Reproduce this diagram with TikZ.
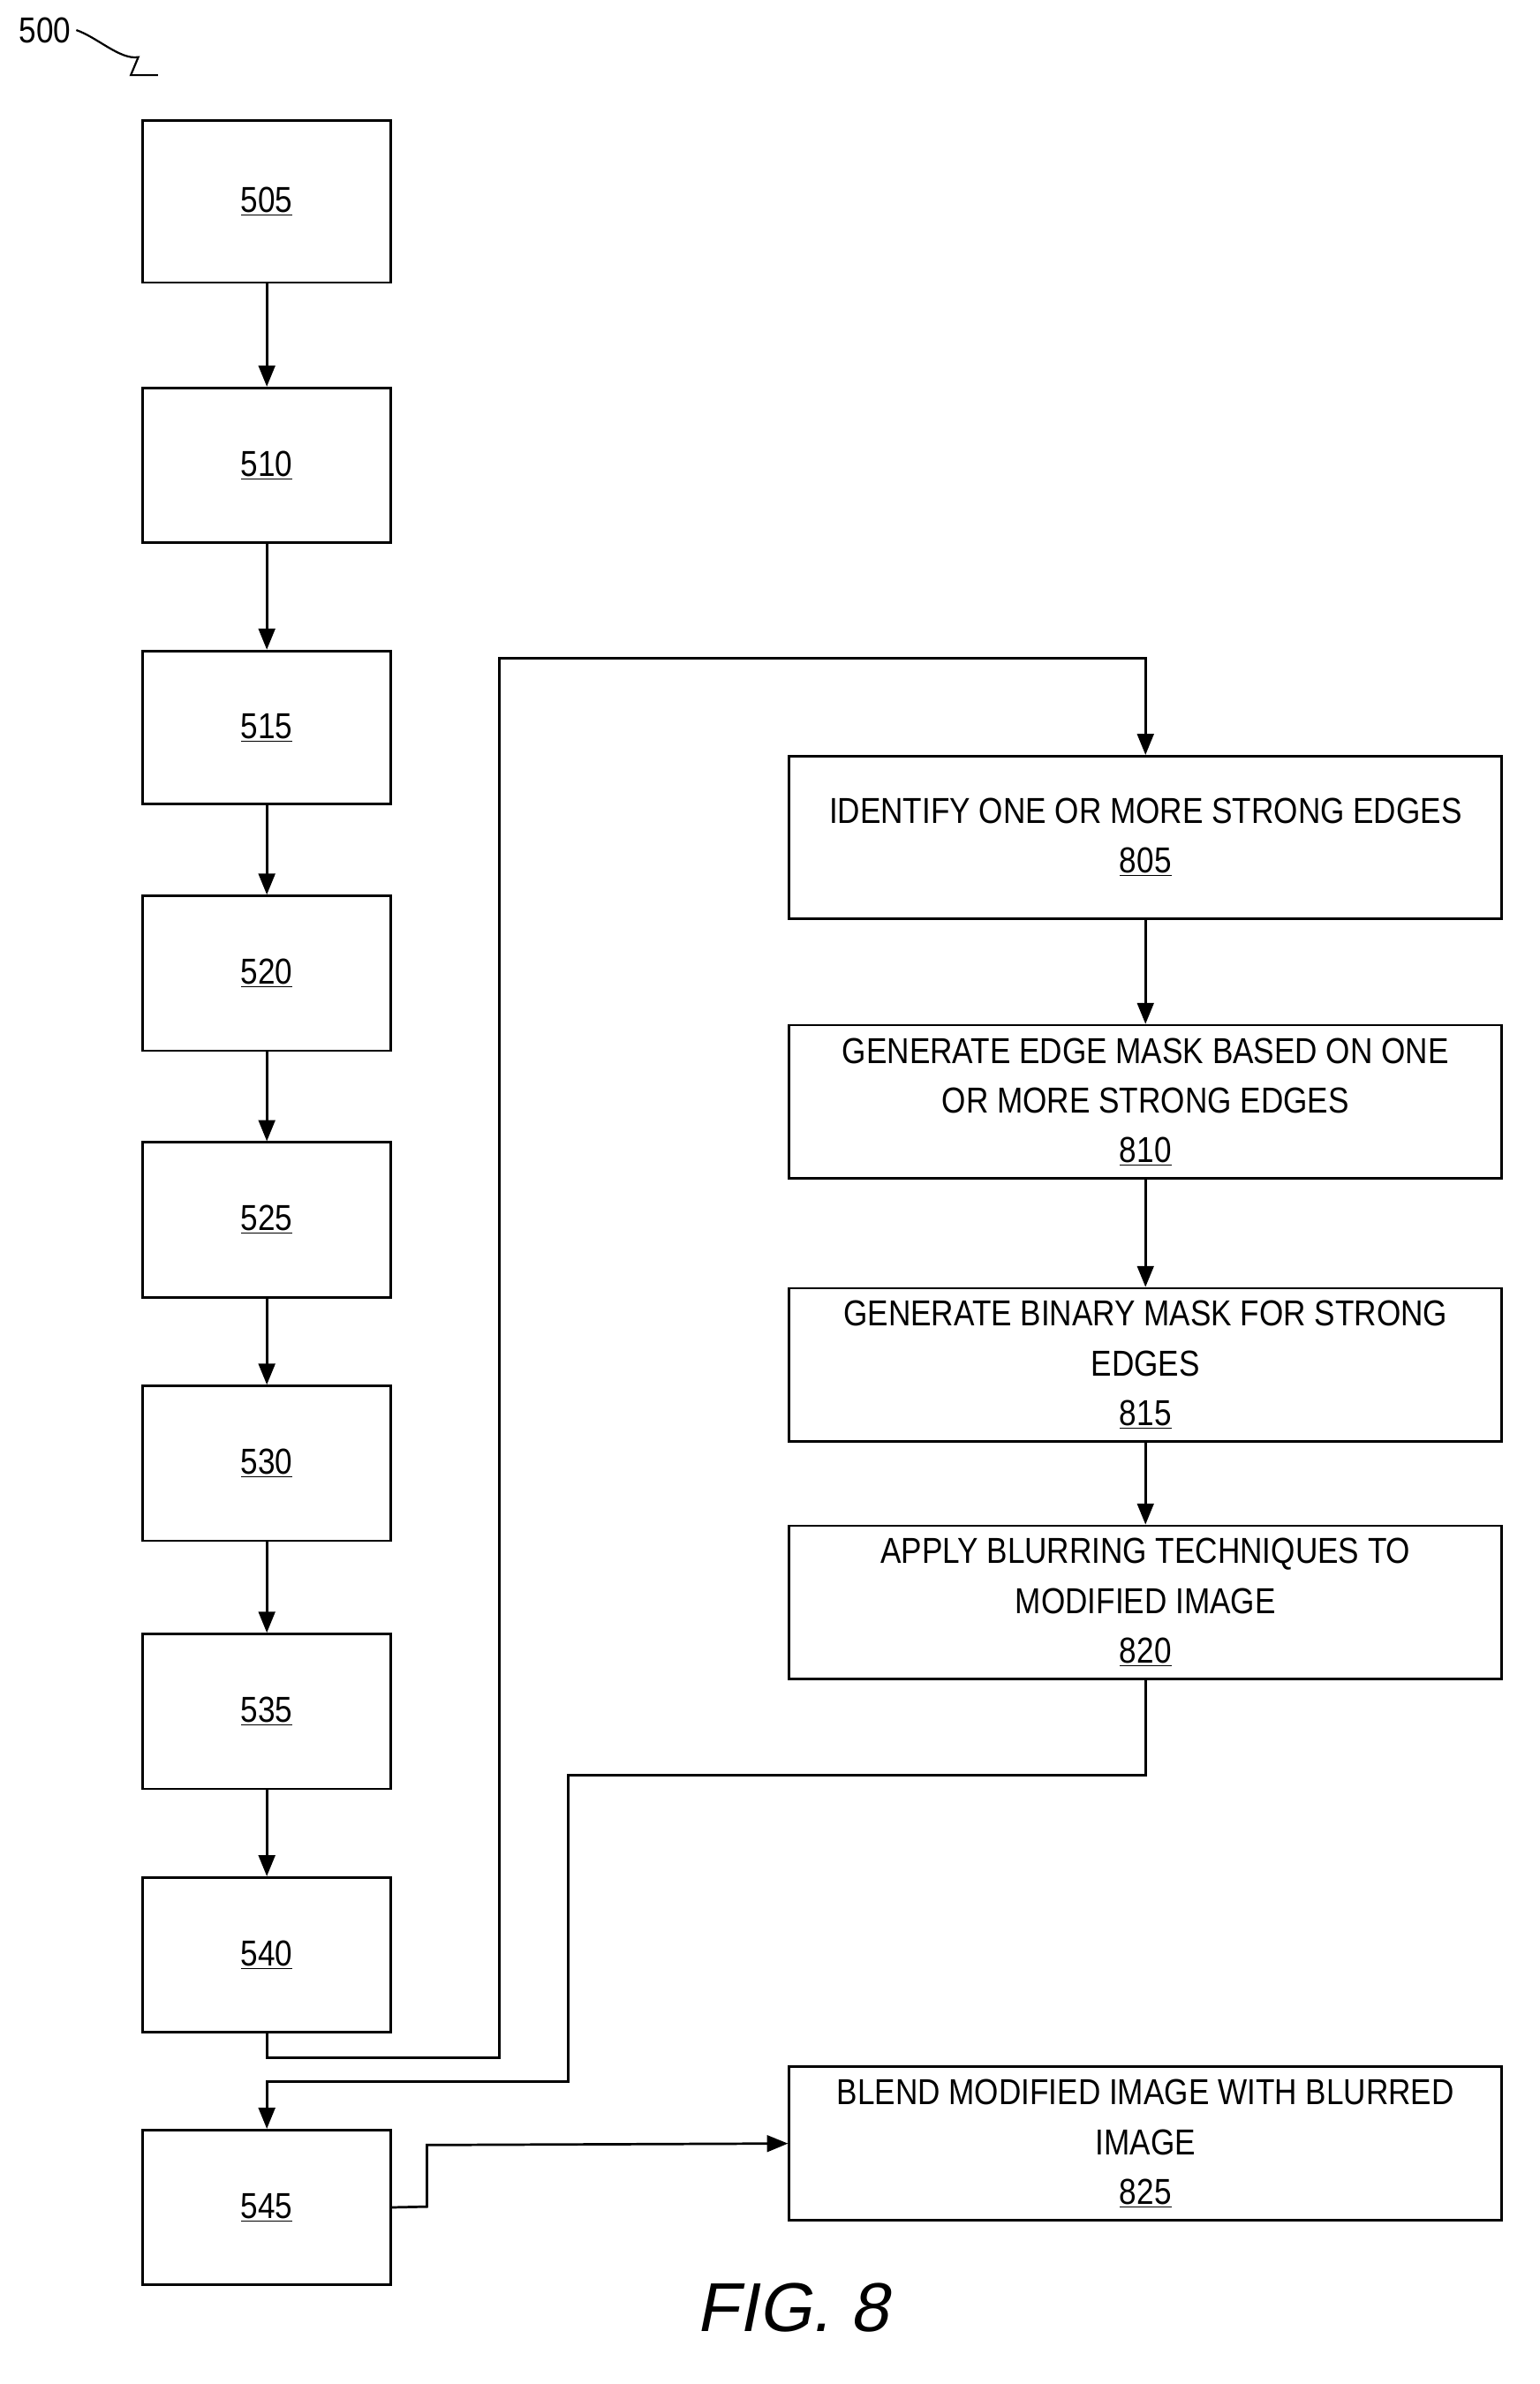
\documentclass[tikz,border=0pt]{standalone}
\usepackage{fontspec}
\setmainfont{Liberation Sans}[FakeStretch=0.86]
\newfontfamily\figfont{Liberation Sans}[FakeSlant=0.2]
\usetikzlibrary{arrows.meta}
\begin{document}
\begin{tikzpicture}[x=1pt,y=-1pt,
 box/.style={draw,line width=1.6pt,inner sep=0pt,align=center,font=\fontsize{24}{33}\selectfont},
 arr/.style={line width=1.6pt,-{Triangle[length=14pt,width=11pt]}},
 ln/.style={line width=1.6pt}]
\useasboundingbox (0,0) rectangle (1024,1586);
\newcommand\lb[4]{\node[box,minimum width=165pt,minimum height=#4] (#1) at (177.5,#2) {\underline{#3}};}
\lb{a}{134}{505}{108pt}
\lb{b}{309.5}{510}{103pt}
\lb{c}{484}{515}{102pt}
\lb{d}{647.5}{520}{103pt}
\lb{e}{811.5}{525}{103pt}
\lb{f}{973.5}{530}{103pt}
\lb{g}{1138.5}{535}{103pt}
\lb{h}{1300.5}{540}{103pt}
\lb{i}{1468.5}{545}{103pt}
\newcommand\rb[4]{\node[box,minimum width=474pt,minimum height=#4] (#1) at (762,#2) {#3};}
\rb{r1}{557}{IDENTIFY ONE OR MORE STRONG EDGES\\\underline{805}}{108pt}
\rb{r2}{733}{GENERATE EDGE MASK BASED ON ONE\\OR MORE STRONG EDGES\\\underline{810}}{102pt}
\rb{r3}{908}{GENERATE BINARY MASK FOR STRONG\\EDGES\\\underline{815}}{102pt}
\rb{r4}{1066}{APPLY BLURRING TECHNIQUES TO\\MODIFIED IMAGE\\\underline{820}}{102pt}
\rb{r5}{1426}{BLEND MODIFIED IMAGE WITH BLURRED\\IMAGE\\\underline{825}}{102pt}
\draw[arr] (a) -- (b); \draw[arr] (b) -- (c); \draw[arr] (c) -- (d);
\draw[arr] (d) -- (e); \draw[arr] (e) -- (f); \draw[arr] (f) -- (g);
\draw[arr] (g) -- (h);
\draw[arr] (r1) -- (r2); \draw[arr] (r2) -- (r3); \draw[arr] (r3) -- (r4);
\draw[arr] (h.south) -- (177.5,1369) -- (332,1369) -- (332,438) -- (762,438) -- (r1.north);
\draw[arr] (r4.south) -- (762,1181) -- (378,1181) -- (378,1385) -- (177.5,1385) -- (i.north);
\draw[arr] (i.east) -- (284,1468) -- (284,1427) -- (r5.west);
\node[font=\fontsize{24}{28}\selectfont] (n500) at (30,20) {500};
\coordinate (t500) at (105,50);
\draw[line width=1.3pt] (n500.east) .. controls (65,25) and (80,40) .. (92,38) -- (87,50) -- (t500);
\node[font=\fontsize{46}{50}\figfont] (fig) at (527,1535) {FIG. 8};
\end{tikzpicture}
\end{document}
